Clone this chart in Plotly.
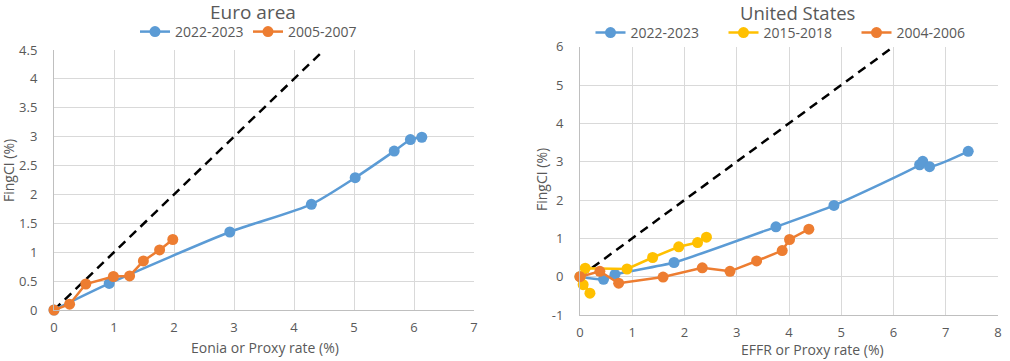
import plotly.graph_objects as go

# ---------------- data ----------------
# Euro area
ea_2022_x = [0.0, 0.92, 2.93, 4.29, 5.02, 5.67, 5.94, 6.13]
ea_2022_y = [0.0, 0.46, 1.35, 1.83, 2.29, 2.75, 2.95, 2.99]
ea_2005_x = [0.0, 0.26, 0.53, 0.99, 1.26, 1.49, 1.76, 1.98]
ea_2005_y = [0.0, 0.10, 0.45, 0.58, 0.59, 0.85, 1.04, 1.22]
ea_ref_x = [0.0, 4.5]
ea_ref_y = [0.0, 4.5]

# United States
us_2022_x = [0.0, 0.45, 0.67, 1.80, 3.75, 4.86, 6.50, 6.56, 6.69, 7.43]
us_2022_y = [0.0, -0.07, 0.06, 0.37, 1.30, 1.86, 2.92, 3.01, 2.87, 3.27]
us_2015_x = [0.0, 0.19, 0.06, 0.10, 0.90, 1.39, 1.89, 2.25, 2.42]
us_2015_y = [0.0, -0.43, -0.21, 0.22, 0.20, 0.50, 0.78, 0.89, 1.03]
us_2004_x = [0.0, 0.38, 0.74, 1.59, 2.34, 2.87, 3.38, 3.87, 4.01, 4.38]
us_2004_y = [0.0, 0.14, -0.17, -0.01, 0.23, 0.14, 0.41, 0.68, 0.97, 1.24]
us_ref_x = [0.0, 6.0]
us_ref_y = [0.0, 6.0]

ea_xticks = [0, 1, 2, 3, 4, 5, 6, 7]
ea_yticks = [0, 0.5, 1, 1.5, 2, 2.5, 3, 3.5, 4, 4.5]
ea_yticklabels = ["0", "0.5", "1", "1.5", "2", "2.5", "3", "3.5", "4", "4.5"]
us_xticks = [0, 1, 2, 3, 4, 5, 6, 7, 8]
us_yticks = [-1, 0, 1, 2, 3, 4, 5, 6]
us_yticklabels = ["-1", "0", "1", "2", "3", "4", "5", "6"]

BLUE = "#5B9BD5"
ORANGE = "#ED7D31"
YELLOW = "#FFC000"
TXT = "#595959"
GRID = "#D9D9D9"
FONT = "Open Sans"

W, H = 1010, 361


def px_x(p):
    return p / W


def px_y(p):
    return 1 - p / H


fig = go.Figure()

mk = dict(size=11)
lw = 2.5
dash = "9px,6px"

# Euro area traces
fig.add_trace(go.Scatter(x=ea_ref_x, y=ea_ref_y, mode="lines",
                         line=dict(color="black", width=2.5, dash=dash),
                         showlegend=False, xaxis="x", yaxis="y", hoverinfo="skip"))
fig.add_trace(go.Scatter(x=ea_2022_x, y=ea_2022_y, mode="lines+markers", name="2022-2023",
                         line=dict(color=BLUE, width=lw, shape="spline", smoothing=0.6),
                         marker=dict(color=BLUE, **mk), cliponaxis=False,
                         xaxis="x", yaxis="y", legend="legend"))
fig.add_trace(go.Scatter(x=ea_2005_x, y=ea_2005_y, mode="lines+markers", name="2005-2007",
                         line=dict(color=ORANGE, width=lw),
                         marker=dict(color=ORANGE, **mk), cliponaxis=False,
                         xaxis="x", yaxis="y", legend="legend"))

# US traces
fig.add_trace(go.Scatter(x=us_ref_x, y=us_ref_y, mode="lines",
                         line=dict(color="black", width=2.5, dash=dash),
                         showlegend=False, xaxis="x2", yaxis="y2", hoverinfo="skip"))
fig.add_trace(go.Scatter(x=us_2022_x, y=us_2022_y, mode="lines+markers", name="2022-2023",
                         line=dict(color=BLUE, width=lw, shape="spline", smoothing=0.6),
                         marker=dict(color=BLUE, **mk), cliponaxis=False,
                         xaxis="x2", yaxis="y2", legend="legend2"))
fig.add_trace(go.Scatter(x=us_2015_x, y=us_2015_y, mode="lines+markers", name="2015-2018",
                         line=dict(color=YELLOW, width=lw),
                         marker=dict(color=YELLOW, **mk), cliponaxis=False,
                         xaxis="x2", yaxis="y2", legend="legend2"))
fig.add_trace(go.Scatter(x=us_2004_x, y=us_2004_y, mode="lines+markers", name="2004-2006",
                         line=dict(color=ORANGE, width=lw),
                         marker=dict(color=ORANGE, **mk), cliponaxis=False,
                         xaxis="x2", yaxis="y2", legend="legend2"))

axis_common = dict(showgrid=True, gridcolor=GRID, gridwidth=1, zeroline=False,
                   showline=True, linecolor="#BFBFBF", linewidth=1, automargin=False,
                   ticks="", tickfont=dict(family=FONT, size=13, color=TXT),
                   fixedrange=True)

legend_common = dict(orientation="h", xanchor="center", yanchor="middle",
                     font=dict(family=FONT, size=14, color=TXT), itemwidth=30,
                     bgcolor="rgba(0,0,0,0)", tracegroupgap=0, borderwidth=0)

fig.update_layout(
    width=W, height=H,
    margin=dict(l=0, r=0, t=0, b=0, pad=0),
    paper_bgcolor="white", plot_bgcolor="white",
    font=dict(family=FONT, color=TXT),
    xaxis=dict(domain=[px_x(54), px_x(474)], range=[0, 7], tickvals=ea_xticks,
               anchor="y", ticklabelstandoff=5, **axis_common),
    yaxis=dict(domain=[px_y(310), px_y(50)], range=[0, 4.5], tickvals=ea_yticks,
               ticktext=ea_yticklabels, anchor="x", ticklabelstandoff=13, **axis_common),
    xaxis2=dict(domain=[px_x(580), px_x(998)], range=[0, 8], tickvals=us_xticks,
                anchor="y2", ticklabelstandoff=5, **axis_common),
    yaxis2=dict(domain=[px_y(315), px_y(46.7)], range=[-1, 6], tickvals=us_yticks,
                ticktext=us_yticklabels, anchor="x2", ticklabelstandoff=13, **axis_common),
    legend=dict(x=px_x(248), y=px_y(32), entrywidth=68, **legend_common),
    legend2=dict(x=px_x(790), y=px_y(33), entrywidth=88, **legend_common),
    annotations=[
        dict(text="Euro area", x=px_x(253), y=px_y(12), xref="paper", yref="paper",
             xanchor="center", yanchor="middle", borderpad=0,
             showarrow=False, font=dict(family=FONT, size=19, color=TXT)),
        dict(text="United States", x=px_x(797), y=px_y(12), xref="paper", yref="paper",
             xanchor="center", yanchor="middle", borderpad=0,
             showarrow=False, font=dict(family=FONT, size=18.5, color=TXT)),
        dict(text="Eonia or Proxy rate (%)", x=px_x(265), y=px_y(347), xref="paper", yref="paper",
             xanchor="center", yanchor="middle", borderpad=0,
             showarrow=False, font=dict(family=FONT, size=14, color=TXT)),
        dict(text="EFFR or Proxy rate (%)", x=px_x(812), y=px_y(349), xref="paper", yref="paper",
             xanchor="center", yanchor="middle", borderpad=0,
             showarrow=False, font=dict(family=FONT, size=14, color=TXT)),
        dict(text="FingCI (%)", x=px_x(9), y=px_y(171), xref="paper", yref="paper",
             xanchor="center", yanchor="middle", borderpad=0,
             showarrow=False, textangle=-90, font=dict(family=FONT, size=14, color=TXT)),
        dict(text="FingCI (%)", x=px_x(541), y=px_y(180), xref="paper", yref="paper",
             xanchor="center", yanchor="middle", borderpad=0,
             showarrow=False, textangle=-90, font=dict(family=FONT, size=14, color=TXT)),
    ],
)

# remove the browser's default 8px body margin so the figure fills the window
fig.write_html("out.html", config={"displayModeBar": False},
               post_script="document.body.style.margin='0px';")
